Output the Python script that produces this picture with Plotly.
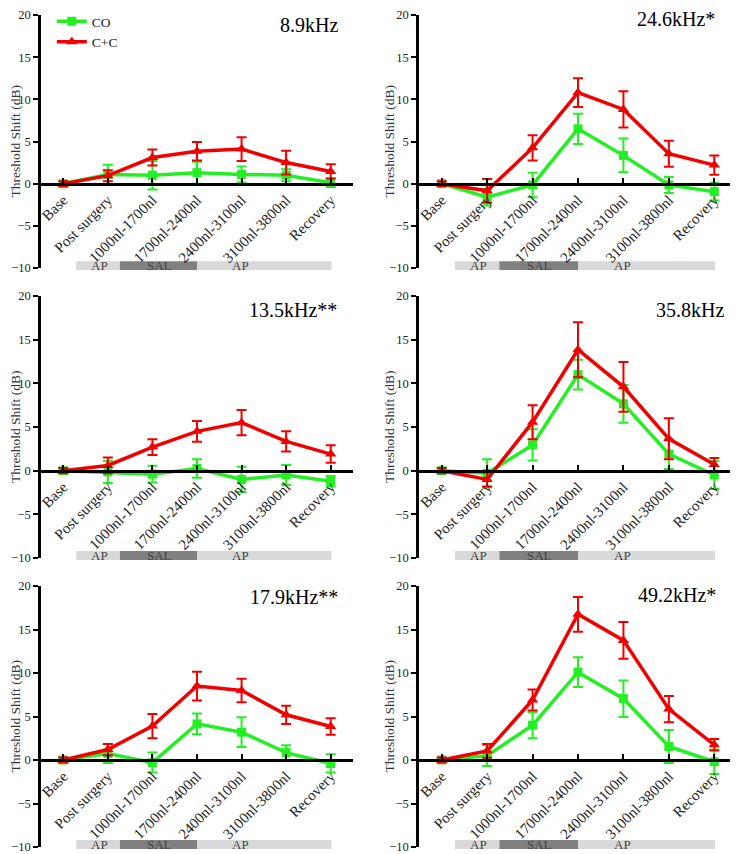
import plotly.graph_objects as go
from plotly.subplots import make_subplots

# categories on the x axis
stages = ['Base', 'Post surgery', '1000nl-1700nl', '1700nl-2400nl',
          '2400nl-3100nl', '3100nl-3800nl', 'Recovery']

panel_titles = ['8.9kHz', '24.6kHz*', '13.5kHz**', '35.8kHz', '17.9kHz**', '49.2kHz*']

# mean threshold shift (dB) and error per panel
co_mean = [
    [0, 1.1, 1.0, 1.3, 1.1, 1.0, 0.1],
    [0, -1.6, -0.15, 6.5, 3.35, -0.15, -0.95],
    [0, -0.15, -0.4, 0.25, -1.0, -0.5, -1.2],
    [0, -0.3, 2.95, 11.0, 7.65, 1.9, -0.5],
    [0, 0.75, -0.3, 4.15, 3.2, 0.85, -0.4],
    [0, 0.5, 4.0, 10.1, 7.05, 1.55, -0.2],
]
co_err = [
    [0.3, 1.15, 1.7, 1.3, 0.95, 0.7, 0.5],
    [0.3, 1.0, 1.45, 1.8, 2.0, 0.95, 1.05],
    [0.3, 1.25, 0.95, 1.05, 1.45, 1.15, 0.6],
    [0.3, 1.6, 1.8, 1.7, 2.15, 1.7, 1.6],
    [0.3, 1.1, 1.15, 1.2, 1.7, 0.85, 1.05],
    [0.3, 1.2, 1.5, 1.7, 2.1, 1.9, 1.4],
]
cc_mean = [
    [0, 0.95, 3.1, 3.85, 4.1, 2.5, 1.45],
    [0, -0.85, 4.25, 10.8, 8.8, 3.55, 2.2],
    [0, 0.6, 2.7, 4.5, 5.5, 3.35, 1.9],
    [0, -1.0, 5.55, 13.85, 9.6, 3.65, 0.7],
    [0, 1.2, 3.9, 8.5, 8.0, 5.2, 3.85],
    [0, 1.05, 6.9, 16.75, 13.75, 5.85, 1.75],
]
cc_err = [
    [0.3, 0.65, 0.95, 1.1, 1.4, 1.4, 0.85],
    [0.3, 1.4, 1.5, 1.7, 2.15, 1.55, 1.15],
    [0.3, 0.9, 0.9, 1.2, 1.45, 1.15, 1.0],
    [0.3, 0.8, 1.95, 3.15, 2.85, 2.35, 0.75],
    [0.3, 0.65, 1.4, 1.65, 1.35, 1.05, 0.95],
    [0.3, 0.8, 1.2, 2.0, 2.1, 1.5, 0.65],
]

GREEN = '#22F022'
RED = '#F20000'
FONT = 'Liberation Serif, Times New Roman, serif'

# the page body adds an 8px margin, so the figure is 8px smaller each way
W, H = 730, 846

fig = make_subplots(rows=3, cols=2)

# panel positions, in figure pixels
x_px = [(33, 345), (411, 729)]
y_px = [(7, 260), (288, 550), (578, 839)]
x_doms = [[a / W, b / W] for a, b in x_px]
y_doms = [[1 - b / H, 1 - a / H] for a, b in y_px]
ytitle_x = [7, 381]
# where each panel label sits inside its panel (domain fractions)
label_pos = [(0.958, 0.96), (0.937, 0.985), (0.955, 0.947),
             (0.965, 0.947), (0.958, 0.958), (0.94, 0.966)]

for i in range(6):
    r, c = i // 2 + 1, i % 2 + 1
    fig.add_trace(go.Scatter(
        x=stages, y=co_mean[i], name='CO', legendgroup='CO', showlegend=(i == 0),
        mode='lines+markers', line=dict(color=GREEN, width=3.5),
        marker=dict(symbol='square', size=9, color=GREEN),
        error_y=dict(type='data', array=co_err[i], color=GREEN, thickness=2, width=5),
    ), row=r, col=c)
    fig.add_trace(go.Scatter(
        x=stages, y=cc_mean[i], name='C+C', legendgroup='CC', showlegend=(i == 0),
        mode='lines+markers', line=dict(color=RED, width=3.5),
        marker=dict(symbol='triangle-up', size=10, color=RED),
        error_y=dict(type='data', array=cc_err[i], color=RED, thickness=2, width=5),
    ), row=r, col=c)

    xa = 'xaxis' if i == 0 else f'xaxis{i + 1}'
    ya = 'yaxis' if i == 0 else f'yaxis{i + 1}'
    yd = y_doms[r - 1]
    fig.layout[xa].update(
        domain=x_doms[c - 1], anchor='free', position=yd[0] + (yd[1] - yd[0]) / 3,
        range=[-0.5, 6.5], showline=True, linecolor='black', linewidth=2.5,
        ticks='inside', ticklen=5, tickwidth=2, tickcolor='black',
        tickangle=-45, tickfont=dict(family=FONT, size=15, color='#222'),
        showgrid=False, zeroline=False, automargin=False, ticklabeloverflow='allow')
    fig.layout[ya].update(
        domain=yd, range=[-10, 20], tickvals=[-10, -5, 0, 5, 10, 15, 20],
        showline=True, linecolor='black', linewidth=2.5,
        ticks='outside', ticklen=5, tickwidth=2, tickcolor='black',
        tickfont=dict(family=FONT, size=12.5, color='#222'),
        showgrid=False, zeroline=False, automargin=False, ticklabeloverflow='allow')

    fig.add_annotation(xref='paper', yref='paper', x=ytitle_x[c - 1] / W, y=(yd[0] + yd[1]) / 2,
                       xanchor='center', yanchor='middle',
                       text='Threshold Shift (dB)', textangle=-90, showarrow=False,
                       font=dict(family=FONT, size=13.5, color='#333'))

    xr = 'x' if i == 0 else f'x{i + 1}'
    yr = 'y domain' if i == 0 else f'y{i + 1} domain'
    # treatment bar under each panel: AP / SAL / AP
    for x0, x1, col in [(0.29, 1.27, '#D9D9D9'), (1.27, 3.0, '#808080'), (3.0, 6.02, '#D9D9D9')]:
        fig.add_shape(type='rect', xref=xr, yref=yr, x0=x0, x1=x1, y0=-0.008, y1=0.027,
                      fillcolor=col, line_width=0, layer='below')
    for xt, label in [(0.82, 'AP'), (2.16, 'SAL'), (3.98, 'AP')]:
        fig.add_annotation(xref=xr, yref=yr, x=xt, y=0.01, text=label, showarrow=False,
                           font=dict(family=FONT, size=13, color='#444'), yanchor='middle')
    lx, ly = label_pos[i]
    fig.add_annotation(xref=xr + ' domain', yref=yr, x=lx, y=ly,
                       text=panel_titles[i], showarrow=False, xanchor='right', yanchor='middle',
                       font=dict(family=FONT, size=20, color='black'))

fig.update_layout(
    width=W, height=H, margin=dict(l=0, r=0, t=0, b=0, autoexpand=False),
    plot_bgcolor='white', paper_bgcolor='white',
    font=dict(family=FONT),
    legend=dict(x=0.06, y=1.0024, xanchor='left', yanchor='top', bgcolor='rgba(0,0,0,0)',
                font=dict(family=FONT, size=13.5, color='#222'), tracegroupgap=0,
                itemwidth=30),
)

fig.write_html('out.html')
